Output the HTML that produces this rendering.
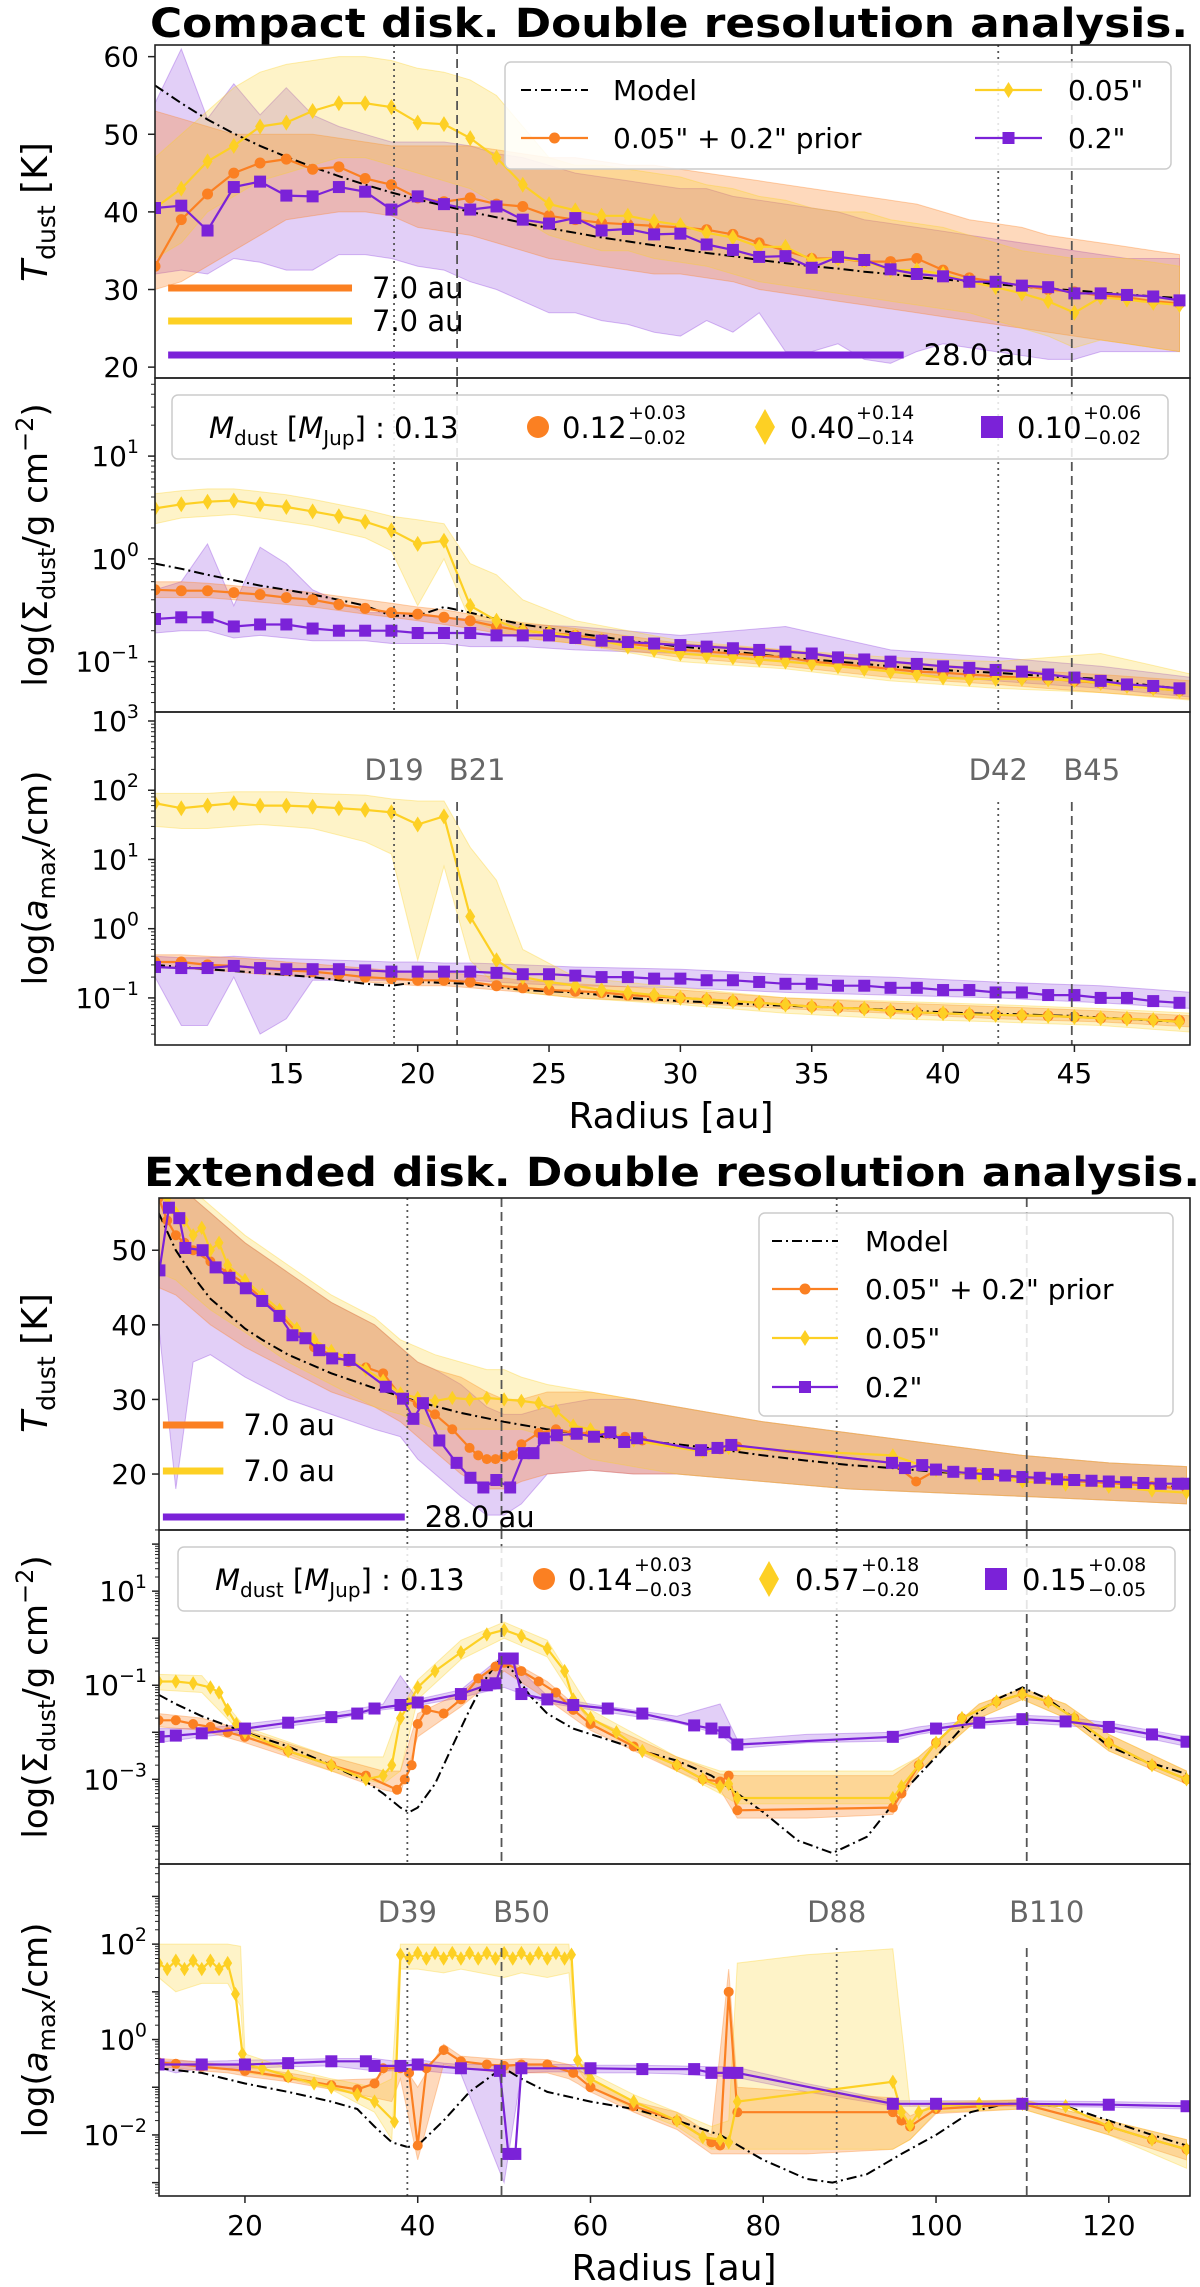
<!DOCTYPE html>
<html><head><meta charset="utf-8"><title>Double resolution analysis</title>
<style>
body{margin:0;background:#fff;}
svg{display:block;font-family:"DejaVu Sans","Liberation Sans",sans-serif;}
</style></head>
<body>
<svg id="fig" xmlns="http://www.w3.org/2000/svg" width="1200" height="2287" viewBox="0 0 1200 2287">
<rect x="0" y="0" width="1200" height="2287" fill="#fff"/>
<defs>
<clipPath id="c1"><rect x="155" y="45" width="1035" height="333"/></clipPath>
<clipPath id="c2"><rect x="155" y="378" width="1035" height="334"/></clipPath>
<clipPath id="c3"><rect x="155" y="712" width="1035" height="333"/></clipPath>
<clipPath id="c4"><rect x="159" y="1198" width="1031" height="332"/></clipPath>
<clipPath id="c5"><rect x="159" y="1530" width="1031" height="334"/></clipPath>
<clipPath id="c6"><rect x="159" y="1864" width="1031" height="332"/></clipPath>
</defs>
<text x="150" y="37" font-size="40" font-weight="bold" textLength="1038" lengthAdjust="spacingAndGlyphs">Compact disk. Double resolution analysis.</text>
<text x="144" y="1186" font-size="40" font-weight="bold" textLength="1056" lengthAdjust="spacingAndGlyphs">Extended disk. Double resolution analysis.</text>
<g id="layer"></g>
<text transform="translate(47,212) rotate(-90)" text-anchor="middle" font-size="36"><tspan font-style="italic">T</tspan><tspan font-size="25" dy="8">dust</tspan><tspan dy="-8"> [K]</tspan></text>
<text transform="translate(47,545) rotate(-90)" text-anchor="middle" font-size="34">log(Σ<tspan font-size="24" dy="8">dust</tspan><tspan dy="-8">/g cm</tspan><tspan font-size="24" dy="-14">−2</tspan><tspan dy="14">)</tspan></text>
<text transform="translate(47,878) rotate(-90)" text-anchor="middle" font-size="34">log(<tspan font-style="italic">a</tspan><tspan font-size="24" dy="8">max</tspan><tspan dy="-8">/cm)</tspan></text>
<text transform="translate(47,1363) rotate(-90)" text-anchor="middle" font-size="36"><tspan font-style="italic">T</tspan><tspan font-size="25" dy="8">dust</tspan><tspan dy="-8"> [K]</tspan></text>
<text transform="translate(47,1697) rotate(-90)" text-anchor="middle" font-size="34">log(Σ<tspan font-size="24" dy="8">dust</tspan><tspan dy="-8">/g cm</tspan><tspan font-size="24" dy="-14">−2</tspan><tspan dy="14">)</tspan></text>
<text transform="translate(47,2030) rotate(-90)" text-anchor="middle" font-size="34">log(<tspan font-style="italic">a</tspan><tspan font-size="24" dy="8">max</tspan><tspan dy="-8">/cm)</tspan></text>
<text x="671" y="1128" text-anchor="middle" font-size="36">Radius [au]</text>
<text x="674" y="2280" text-anchor="middle" font-size="36">Radius [au]</text>
</svg>
<script>
// ===== Compact disk data =====
const tR = [10,11,12,13,14,15,16,17,18,19,20,21,22,23,24,25,26,27,28,29,30,31,32,33,34,35,36,37,38,39,40,41,42,43,44,45,46,47,48,49];
const tT_model = [56.3,54.0,51.9,50.1,48.5,47.1,45.8,44.6,43.5,42.5,41.6,40.8,40.0,39.3,38.6,37.9,37.3,36.7,36.2,35.7,35.2,34.7,34.3,33.8,33.4,33.0,32.7,32.3,32.0,31.6,31.3,31.0,30.7,30.4,30.1,29.9,29.6,29.4,29.1,28.9];
const tT_prior = [33,39,42.3,45,46.3,46.8,45.5,45.8,44.3,43.5,41.8,41.3,41.8,41,40.7,39.5,39,38.6,38.4,38.2,38,37.7,37.1,36,35,34,34,33.6,33.6,34,32.5,31.5,31,30.5,30,29.7,29.2,29,28.5,28.2];
const tT_fine = [40.5,43,46.5,48.5,51,51.5,53,54,54,53.5,51.5,51.3,49.5,47,43.5,41,40.2,39.5,39.5,38.8,38.3,37.3,36.7,35.5,35.5,33.8,34,33.7,32.5,32.5,32,31,30.3,29.5,28.5,27,29,28.7,28.3,28];
const tT_coarse = [40.5,40.8,37.6,43.2,43.9,42.1,42,43.2,42.6,40.3,42,41,40.3,40.7,39,38.5,39.2,37.6,37.8,37.1,37.2,35.8,35.1,34.2,34.3,32.8,34.2,33.8,32.6,32,31.7,31,31,30.5,30.3,29.5,29.5,29.3,29.1,28.6];
const tT_priorLo = [30,31,33,35,37,39,39.5,40,40,39.5,38,37.5,37,36,35,34,33.5,33,32.5,32,32,31.5,31,30,29.5,29,28.5,28,27.5,27,26.5,26,25.5,25,24.5,24,23.5,23,22.5,22];
const tT_priorHi = [53,52,51,50,50,50,50,49.5,49,48.5,48.5,48.5,48.5,48,47.5,47,47,46.5,46,46,45.5,45,44.5,44,43.5,43,42.5,42,41.5,41,40,39,38.5,38,37,36.5,36,35.5,35,34.5];
const tT_fineLo = [34,36,40,42,44,45,46,47,47,46,45,44,43,41,39,37,36,35,35,34,33.5,33,32,31,30.5,30,29.5,29,28.5,28,27.5,27,26,25,24,22.5,23.5,23,22.5,22];
const tT_fineHi = [47,50,53,56,58,59,59.5,60,60,59.5,58.5,58,57,55,51,47,46,46,45.5,45,44.5,43.5,43,42,41.5,40.5,40,40,39,38.5,38,37,36,35,34.5,34,34,34,33.5,33];
const tT_coarseLo = [32,32.5,32,34,33.5,32.5,32.5,34.5,34.5,34,33,32.5,31,30,28.5,27,27,26,25.5,24.5,24,26,24.5,27,22,22,23,21,20.5,22,23,22.5,22,21.5,21,21,22,22,22,22];
const tT_coarseHi = [54,61,52,56.5,52.5,56,52.5,51,50,49,49,49,48.5,47.5,47,46,45,44.5,44,43.5,43,43,42,41.5,41,40.5,40,39,38.5,38,37.5,37,36.5,36,35.5,35,34.5,34,34,34];

const tS_model = [0.9,0.8,0.7,0.62,0.55,0.5,0.45,0.4,0.35,0.28,0.28,0.34,0.3,0.26,0.23,0.21,0.19,0.175,0.16,0.15,0.14,0.133,0.125,0.118,0.11,0.105,0.1,0.095,0.09,0.086,0.083,0.08,0.078,0.075,0.072,0.07,0.068,0.063,0.058,0.055];
const tS_prior = [0.5,0.49,0.49,0.47,0.45,0.42,0.4,0.36,0.33,0.3,0.29,0.27,0.25,0.22,0.2,0.19,0.18,0.165,0.15,0.14,0.13,0.125,0.12,0.115,0.11,0.1,0.095,0.09,0.085,0.08,0.078,0.075,0.072,0.07,0.068,0.065,0.062,0.058,0.055,0.052];
const tS_fine = [3.1,3.4,3.6,3.7,3.4,3.2,2.9,2.6,2.3,1.9,1.4,1.5,0.35,0.25,0.2,0.19,0.175,0.16,0.14,0.13,0.12,0.115,0.11,0.105,0.1,0.095,0.09,0.085,0.08,0.075,0.07,0.068,0.068,0.068,0.067,0.066,0.062,0.058,0.055,0.052];
const tS_coarse = [0.26,0.27,0.27,0.22,0.23,0.23,0.21,0.2,0.2,0.2,0.19,0.19,0.19,0.18,0.18,0.18,0.17,0.16,0.155,0.15,0.145,0.14,0.135,0.13,0.125,0.12,0.11,0.105,0.1,0.095,0.09,0.087,0.083,0.08,0.075,0.07,0.065,0.06,0.058,0.055];
const tBandR = [10,11,12,13,14,15,16,18,19,20,21,22,23,24,26,30,34,38,42,46,49.5];
const tS_priorLo = [0.42,0.42,0.42,0.40,0.38,0.36,0.34,0.29,0.27,0.25,0.23,0.21,0.19,0.17,0.15,0.11,0.09,0.07,0.06,0.05,0.043];
const tS_priorHi = [0.6,0.6,0.58,0.55,0.52,0.5,0.47,0.4,0.37,0.34,0.32,0.29,0.26,0.24,0.21,0.15,0.13,0.1,0.085,0.075,0.065];
const tS_fineLo = [2.2,2.5,2.6,2.7,2.5,2.3,2.1,1.6,1.2,0.35,1.0,0.25,0.2,0.17,0.15,0.1,0.085,0.065,0.055,0.05,0.042];
const tS_fineHi = [4.3,4.6,4.8,4.8,4.5,4.2,3.8,3.0,2.6,2.4,2.2,0.9,0.7,0.4,0.25,0.16,0.13,0.11,0.1,0.12,0.075];
const tS_coarseLo = [0.19,0.2,0.2,0.17,0.18,0.17,0.16,0.16,0.15,0.15,0.15,0.14,0.14,0.14,0.13,0.12,0.1,0.08,0.065,0.055,0.045];
const tS_coarseHi = [0.5,0.6,1.4,0.35,1.3,0.9,0.5,0.3,0.3,0.28,0.27,0.26,0.24,0.23,0.22,0.18,0.22,0.13,0.11,0.09,0.07];

const tA_model = [0.3,0.28,0.26,0.245,0.23,0.215,0.2,0.18,0.16,0.15,0.17,0.165,0.16,0.145,0.13,0.125,0.12,0.11,0.1,0.095,0.09,0.087,0.083,0.08,0.077,0.075,0.072,0.07,0.067,0.065,0.062,0.06,0.059,0.058,0.056,0.055,0.052,0.05,0.047,0.045];
const tA_prior = [0.33,0.33,0.3,0.29,0.27,0.25,0.24,0.22,0.2,0.19,0.18,0.18,0.17,0.15,0.14,0.13,0.125,0.12,0.11,0.105,0.1,0.095,0.09,0.085,0.08,0.075,0.072,0.07,0.065,0.062,0.06,0.058,0.057,0.056,0.055,0.053,0.051,0.05,0.048,0.047];
const tA_fine = [65,55,60,65,60,60,58,55,52,48,32,42,1.5,0.35,0.2,0.17,0.15,0.13,0.12,0.11,0.1,0.095,0.09,0.085,0.08,0.075,0.072,0.07,0.065,0.062,0.06,0.058,0.057,0.056,0.055,0.053,0.051,0.05,0.048,0.045];
const tA_coarse = [0.28,0.27,0.27,0.29,0.27,0.26,0.26,0.26,0.25,0.24,0.24,0.24,0.24,0.23,0.22,0.22,0.21,0.2,0.2,0.19,0.19,0.18,0.18,0.17,0.16,0.16,0.15,0.15,0.14,0.14,0.13,0.13,0.12,0.12,0.11,0.11,0.1,0.1,0.09,0.085];
const tA_priorLo = [0.27,0.27,0.25,0.24,0.22,0.21,0.2,0.17,0.16,0.15,0.15,0.14,0.13,0.12,0.1,0.085,0.07,0.06,0.05,0.045,0.038];
const tA_priorHi = [0.42,0.42,0.4,0.38,0.36,0.33,0.31,0.27,0.25,0.24,0.23,0.22,0.2,0.18,0.16,0.13,0.1,0.085,0.075,0.065,0.055];
const tA_fineLo = [30,28,28,30,32,30,28,18,12,0.35,8,0.35,0.15,0.12,0.1,0.08,0.06,0.05,0.045,0.04,0.032];
const tA_fineHi = [90,90,90,95,95,95,90,85,75,70,70,15,5,0.5,0.2,0.14,0.1,0.09,0.08,0.07,0.06];
const tA_coarseLo = [0.2,0.04,0.04,0.2,0.03,0.05,0.18,0.18,0.18,0.18,0.18,0.18,0.17,0.16,0.15,0.14,0.12,0.11,0.1,0.085,0.07];
const tA_coarseHi = [0.4,0.38,0.38,0.4,0.38,0.37,0.36,0.34,0.33,0.33,0.32,0.32,0.31,0.3,0.28,0.26,0.22,0.2,0.17,0.15,0.12];

const tRefR = [19.1,21.5,42.1,44.9];
const tRefLabels = ["D19","B21","D42","B45"];
const tXTicks = [15,20,25,30,35,40,45];
const tTTicks = [20,30,40,50,60];
const tSExp = [-1,0,1];
const tAExp = [-1,0,1,2,3];

// ===== Extended disk data =====
const bT_modelR = [10,12,14,16,18,20,22,25,30,35,40,45,50,55,60,65,70,75,80,85,90,95,100,110,120,129];
const bT_model = [55,50,46.5,43.5,41.5,39.5,38,36,33.5,31.5,29.7,28.2,27,26,25.2,24.5,24,23.3,22.5,21.8,21.2,20.8,20.3,19.5,18.8,18.2];
const bT_priorR = [10,11,12,13,14,16,18,20,22,24,26,28,30,32,34,36,38,40,42,44,46,47,48,49,50,51,52,54,56,58,60,62,64,66,73,75,77,95,97.7,100,105,110,115,120,125,129];
const bT_prior = [57,54,52,51,50,48.5,47,45.5,43.5,41.5,39,37,36,35,34.3,33.5,30.5,29.5,28,26,23.5,22.5,22,22,22.3,22.5,24,25.5,26,25.5,25.5,25.3,25,24.5,23,23.3,23.7,21.5,19,20.5,20,19.5,19.1,18.8,18.4,18];
const bT_fineR = [10,11,12,13,14,15,16,17,18,20,22,24,26,28,30,32,34,36,38,40,42,44,46,48,50,52,54,56,58,60,62,65,73,76,95,100,105,110,115,120,125,129];
const bT_fine = [58,57,55,54,52,53,50,51,48,46,44,42,39.5,38,36.5,35.5,34,32.5,30.8,30.2,29.8,30.2,30,30.2,30,29.8,29.5,28.5,26.5,26,25.5,24.5,23,23.5,22.5,20.5,19.8,19,18.6,18.3,17.8,17.5];
const bT_coarseR = [10.1,11.2,12.4,13.1,15.1,16.6,18.2,20.1,22,24,25.5,27,28.6,30.1,32.1,36.3,38.3,39.5,40.6,42.5,44.5,46.1,47.6,49.1,50.7,52.3,53.4,54.6,56.1,58.4,60.4,62.3,63.9,65.4,72.8,74.7,76.3,94.9,96.4,98.4,100,102,104,106,108,110,112,114,116,118,120,122,124,126,128,129];
const bT_coarse = [47.3,55.7,54.3,50.3,50,47.7,46.3,44.9,43.2,41.2,38.6,38.2,36.6,35.5,35.3,31.7,30.1,27.4,29.5,24.5,21.5,19.5,18.2,19.2,18.2,22.8,22.8,24.8,25.2,25.4,25,25.6,24.3,24.8,23.2,23.5,23.9,21.5,20.8,21.2,20.6,20.3,20.1,20,19.8,19.6,19.5,19.3,19.2,19.1,19,18.9,18.8,18.7,18.7,18.7];
const bTBandR = [10,12,14,16,20,25,30,35,38,40,42,45,48,50,52,55,60,65,70,75,80,90,100,110,120,129];
const bT_priorLo = [45,44,42,40,37,34,31,29,27,25,23,20,18,18,19,20,20.5,20,20,19.5,19,18,17.5,17,16.5,16];
const bT_priorHi = [60,59,57,55,51,47,43,40,37,35,34,33,31,30,30,31,31,30,29,28,27,25.5,24,22.5,21.5,21];
const bT_fineLo = [47,46,44,42,39,35,32,29,28,27,26,26,26,26,26,25,22,21,20,19.5,19,18,17.5,17,16.5,16];
const bT_fineHi = [60,59,58,56,52,48,44,41,38,37,36,35,34,34,33,32,31,30,29,28,27,25.5,24,22.5,21.5,21];
const bT_coarseLo = [40,18,35,36,33,30,28,26,25,22,20,17,14.5,14.5,16,20,20.5,20,20,19.5,19,18,17.5,17,16.5,16];
const bT_coarseHi = [57,58,57,55,51,47,43,40,37,35,34,32,29,28,28,29,30,30,29,28,27,25.5,24,22.5,21.5,21];

const bS_modelR = [10,12,15,20,25,30,34,36,38,39,40,42,44,46,48,49.5,51,53,55,58,62,66,70,74,77,80,84,88,92,96,100,104,107,110,113,116,120,124,129];
const bS_model = [0.063,0.04,0.022,0.01,0.005,0.002,0.0009,0.0005,0.00025,0.0002,0.00025,0.0008,0.005,0.03,0.15,0.35,0.2,0.06,0.025,0.012,0.007,0.004,0.0025,0.0012,0.0005,0.0002,0.00005,0.000027,0.00006,0.0005,0.003,0.02,0.05,0.09,0.05,0.02,0.005,0.0025,0.0013];
const bS_priorR = [10,12,14,16,18,20,25,30,34,37.6,38.5,39.3,40,41,43,45,47,49,50,52,54,56,58,60,65,70,73,75,76,77,95,96,98,100,103,107,110,113,116,120,125,129];
const bS_prior = [0.018,0.018,0.015,0.013,0.01,0.008,0.004,0.002,0.0012,0.0006,0.001,0.002,0.015,0.03,0.025,0.05,0.14,0.25,0.3,0.2,0.12,0.07,0.03,0.015,0.005,0.002,0.001,0.0009,0.0012,0.00022,0.00025,0.0005,0.002,0.006,0.02,0.045,0.065,0.045,0.02,0.006,0.002,0.001];
const bS_fineR = [10,12,14,16,17,18,19,20,25,30,34,36,37,38,39,40,42,45,48,50,52,55,57,58,60,63,66,70,73,75,76,77,95,96,98,100,103,107,110,113,116,120,125,129];
const bS_fine = [0.12,0.12,0.11,0.09,0.07,0.03,0.015,0.01,0.004,0.002,0.001,0.0012,0.002,0.02,0.04,0.09,0.2,0.5,1.2,1.5,1.1,0.6,0.2,0.05,0.02,0.01,0.004,0.002,0.001,0.0007,0.0008,0.0004,0.0004,0.0007,0.002,0.006,0.02,0.045,0.065,0.045,0.02,0.006,0.002,0.001];
const bS_coarseR = [10,12,15,20,25,30,33,35,38,40,45,48,49,50,51,52,55,58,62,66,72,74,75.5,77,95,100,105,110,115,120,125,129];
const bS_coarse = [0.008,0.0085,0.0095,0.012,0.016,0.021,0.025,0.032,0.038,0.043,0.065,0.1,0.11,0.37,0.37,0.065,0.05,0.038,0.032,0.025,0.014,0.012,0.01,0.0055,0.008,0.012,0.016,0.019,0.017,0.013,0.009,0.0063];
const bSBandR = [10,15,20,30,36,38,40,45,50,55,60,70,75,77,85,95,98,105,110,115,120,129];
const bS_priorLo = [0.013,0.011,0.006,0.0015,0.0006,0.0005,0.008,0.035,0.2,0.05,0.011,0.0015,0.0006,0.00015,0.00015,0.00018,0.0015,0.02,0.05,0.02,0.004,0.0008];
const bS_priorHi = [0.025,0.02,0.011,0.003,0.0015,0.0015,0.025,0.07,0.4,0.12,0.02,0.003,0.0013,0.0012,0.0012,0.0012,0.003,0.04,0.085,0.04,0.009,0.0015];
const bS_fineLo = [0.08,0.07,0.008,0.0015,0.0008,0.0015,0.05,0.35,1.0,0.4,0.015,0.0015,0.0005,0.0003,0.0003,0.0003,0.0015,0.02,0.05,0.02,0.004,0.0008];
const bS_fineHi = [0.17,0.16,0.013,0.003,0.003,0.03,0.13,0.9,2.2,0.9,0.03,0.003,0.0015,0.0015,0.0015,0.0015,0.003,0.04,0.085,0.04,0.009,0.0015];
const bS_coarseLo = [0.006,0.008,0.01,0.018,0.03,0.033,0.037,0.055,0.09,0.042,0.03,0.016,0.009,0.0045,0.006,0.0065,0.009,0.014,0.016,0.014,0.011,0.005];
const bS_coarseHi = [0.012,0.012,0.015,0.025,0.04,0.16,0.05,0.08,0.45,0.06,0.04,0.022,0.04,0.007,0.009,0.01,0.013,0.019,0.023,0.021,0.016,0.008];

const bA_modelR = [10,15,20,25,30,33,35,37,38.8,40,43,46,49,50,52,55,60,65,70,75,80,85,88,92,96,100,104,108,110,115,120,125,129];
const bA_model = [0.25,0.2,0.12,0.08,0.05,0.035,0.015,0.007,0.0056,0.006,0.02,0.08,0.2,0.25,0.15,0.08,0.05,0.035,0.02,0.01,0.003,0.0012,0.001,0.0015,0.004,0.01,0.03,0.045,0.045,0.04,0.02,0.01,0.006];
const bA_priorR = [10,12,15,20,25,30,33,35,36,38,39,40,41,43,45,48,50,52,55,58,60,65,70,74,75,76,77,95,96,97,100,110,120,125,129];
const bA_prior = [0.33,0.31,0.27,0.22,0.16,0.11,0.09,0.12,0.25,0.25,0.2,0.006,0.25,0.6,0.35,0.3,0.28,0.3,0.3,0.2,0.1,0.04,0.02,0.007,0.006,10,0.03,0.03,0.02,0.015,0.035,0.045,0.015,0.008,0.005];
const bA_fineR = [10,11,12,13,14,15,16,17,18,18.9,19.7,20,22,25,28,30,33,35,37.3,38,39,40,41,42,43,44,45,46,47,48,49,50,51,52,53,54,55,56,57,57.8,58.5,60,65,70,73,75,76,77,95,96,97,98,100,105,110,115,120,125,129];
const bA_fine = [40,30,45,30,45,30,45,30,40,9,0.5,0.3,0.25,0.17,0.12,0.1,0.07,0.05,0.019,60,50,65,50,65,50,65,50,65,50,65,50,65,50,65,50,65,50,65,50,60,0.37,0.15,0.05,0.02,0.009,0.008,0.007,0.05,0.13,0.03,0.016,0.03,0.04,0.045,0.045,0.04,0.015,0.008,0.005];
const bA_coarseR = [10,15,20,25,30,34,35,38,40,45,49.5,50.5,51.3,52,60,66,72,74,76,77,95,100,110,120,129];
const bA_coarse = [0.3,0.3,0.3,0.32,0.35,0.35,0.28,0.28,0.3,0.25,0.22,0.004,0.004,0.25,0.25,0.24,0.24,0.2,0.2,0.2,0.045,0.045,0.045,0.043,0.04];
const bABandR = [10,12,15,18,19.5,20,25,30,35,37,38,40,43,45,50,52,55,57.5,58.5,60,65,70,74,76,77,85,95,97,100,110,120,129];
const bA_fineLo = [20,10,15,15,5,0.2,0.15,0.09,0.03,0.008,30,30,25,30,20,25,20,25,0.25,0.1,0.035,0.015,0.005,0.005,0.005,0.005,0.005,0.008,0.03,0.035,0.01,0.002];
const bA_fineHi = [100,100,100,100,90,0.5,0.25,0.15,0.1,0.15,100,100,100,100,100,100,100,100,0.5,0.2,0.07,0.03,0.015,0.02,40,60,80,0.04,0.05,0.055,0.02,0.008];
const bA_priorLo = [0.27,0.25,0.22,0.2,0.18,0.17,0.13,0.09,0.06,0.05,0.15,0.003,0.3,0.25,0.2,0.2,0.2,0.15,0.12,0.08,0.03,0.013,0.004,0.004,0.004,0.004,0.005,0.008,0.028,0.035,0.01,0.003];
const bA_priorHi = [0.4,0.38,0.33,0.3,0.28,0.27,0.2,0.14,0.15,0.25,0.35,0.1,0.8,0.45,0.38,0.4,0.38,0.3,0.25,0.15,0.05,0.03,0.01,30,0.1,0.08,0.06,0.025,0.045,0.055,0.02,0.008];
const bA_coarseLo = [0.25,0.2,0.25,0.25,0.25,0.25,0.27,0.28,0.22,0.22,0.22,0.23,0.2,0.19,0.001,0.2,0.21,0.21,0.21,0.2,0.2,0.19,0.17,0.17,0.16,0.08,0.04,0.04,0.04,0.04,0.038,0.035];
const bA_coarseHi = [0.35,0.36,0.35,0.36,0.37,0.37,0.38,0.4,0.4,0.36,0.35,0.38,0.32,0.3,0.3,0.3,0.3,0.3,0.3,0.29,0.29,0.28,0.27,0.27,0.26,0.12,0.052,0.052,0.052,0.052,0.05,0.047];

const bRefR = [38.8,49.7,88.5,110.5];
const bRefLabels = ["D39","B50","D88","B110"];
const bXTicks = [20,40,60,80,100,120];
const bTTicks = [20,30,40,50];
const bSExp = [-3,-1,1];
const bAExp = [-2,0,2];

const resLengths = [7.0,7.0,28.0];

// ===== drawing =====
const NS = 'http://www.w3.org/2000/svg';
const layer = document.getElementById('layer');
const COL = {model:'#000', prior:'#fb8022', fine:'#fdd024', coarse:'#7b22d8'};
const BAND = {prior:['#fb8022',0.3], fine:['#fdd024',0.25], coarse:['#8b3ee0',0.25]};
function mk(parent, tag, attrs){
  const e = document.createElementNS(NS, tag);
  for (const k in attrs) e.setAttribute(k, attrs[k]);
  parent.appendChild(e);
  return e;
}
function lin(d0,d1,p0,p1){ return v => p0 + (v-d0)*(p1-p0)/(d1-d0); }
function logs(d0,d1,p0,p1){ return v => p0 + (Math.log10(v)-d0)*(p1-p0)/(d1-d0); }

const xTop = lin(10,49.4,155,1190);
const xBot = lin(10.05,129.4,159,1190);
const panels = [
  {key:'top-tdust', clip:'c1', x:xTop, y:lin(18.6,61.5,378,45), l:155,r:1190,t:45,b:378},
  {key:'top-sigma', clip:'c2', x:xTop, y:logs(-1.49,1.76,712,378), l:155,r:1190,t:378,b:712},
  {key:'top-amax', clip:'c3', x:xTop, y:logs(-1.68,3.13,1045,712), l:155,r:1190,t:712,b:1045},
  {key:'bottom-tdust', clip:'c4', x:xBot, y:lin(12.5,57,1530,1198), l:159,r:1190,t:1198,b:1530},
  {key:'bottom-sigma', clip:'c5', x:xBot, y:logs(-4.8,2.3,1864,1530), l:159,r:1190,t:1530,b:1864},
  {key:'bottom-amax', clip:'c6', x:xBot, y:logs(-3.28,3.68,2196,1864), l:159,r:1190,t:1864,b:2196}
];
panels.forEach(p => {
  p.g = mk(layer,'g',{'clip-path':'url(#'+p.clip+')'});
  
  
});

function band(p, R, lo, hi, which){
  const pts = [];
  for (let i=0;i<R.length;i++) pts.push(p.x(R[i]).toFixed(1)+','+p.y(lo[i]).toFixed(1));
  for (let i=R.length-1;i>=0;i--) pts.push(p.x(R[i]).toFixed(1)+','+p.y(hi[i]).toFixed(1));
  const e = mk(p.g,'polygon',{points:pts.join(' '), fill:BAND[which][0], 'fill-opacity':BAND[which][1], stroke:BAND[which][0], 'stroke-opacity':0.35, 'stroke-width':1});
  
  
}
function marker(g, kind, cx, cy, s, color){
  let e;
  if (kind==='circle') e = mk(g,'circle',{cx:cx, cy:cy, r:s, fill:color});
  else if (kind==='diamond') e = mk(g,'polygon',{points:(cx)+','+(cy-s*1.6)+' '+(cx+s)+','+cy+' '+cx+','+(cy+s*1.6)+' '+(cx-s)+','+cy, fill:color});
  else e = mk(g,'rect',{x:cx-s, y:cy-s, width:2*s, height:2*s, fill:color});
  return e;
}
function series(p, R, V, which, kind, ms){
  const d = R.map((r,i)=>(i?'L':'M')+p.x(r).toFixed(1)+','+p.y(V[i]).toFixed(1)).join('');
  const ln = mk(p.g,'path',{d:d, fill:'none', stroke:COL[which], 'stroke-width':2.2, 'stroke-linejoin':'round'});
  
  
  for (let i=0;i<R.length;i++){
    const m = marker(p.g, kind, p.x(R[i]), p.y(V[i]), ms, COL[which]);
    
    
  }
}
function model(p, R, V){
  const d = R.map((r,i)=>(i?'L':'M')+p.x(r).toFixed(1)+','+p.y(V[i]).toFixed(1)).join('');
  const e = mk(p.g,'path',{d:d, fill:'none', stroke:'#000', 'stroke-width':2, 'stroke-dasharray':'10,4,2,4'});
  
  
}

const [P1,P2,P3,P4,P5,P6] = panels;
band(P1,tR,tT_coarseLo,tT_coarseHi,'coarse'); band(P1,tR,tT_priorLo,tT_priorHi,'prior'); band(P1,tR,tT_fineLo,tT_fineHi,'fine');
model(P1,tR,tT_model);
series(P1,tR,tT_prior,'prior','circle',5.5); series(P1,tR,tT_fine,'fine','diamond',5); series(P1,tR,tT_coarse,'coarse','square',6);
band(P2,tBandR,tS_coarseLo,tS_coarseHi,'coarse'); band(P2,tBandR,tS_priorLo,tS_priorHi,'prior'); band(P2,tBandR,tS_fineLo,tS_fineHi,'fine');
model(P2,tR,tS_model);
series(P2,tR,tS_prior,'prior','circle',5.5); series(P2,tR,tS_fine,'fine','diamond',5); series(P2,tR,tS_coarse,'coarse','square',6);
band(P3,tBandR,tA_coarseLo,tA_coarseHi,'coarse'); band(P3,tBandR,tA_priorLo,tA_priorHi,'prior'); band(P3,tBandR,tA_fineLo,tA_fineHi,'fine');
model(P3,tR,tA_model);
series(P3,tR,tA_prior,'prior','circle',5.5); series(P3,tR,tA_fine,'fine','diamond',5); series(P3,tR,tA_coarse,'coarse','square',6);
band(P4,bTBandR,bT_coarseLo,bT_coarseHi,'coarse'); band(P4,bTBandR,bT_priorLo,bT_priorHi,'prior'); band(P4,bTBandR,bT_fineLo,bT_fineHi,'fine');
model(P4,bT_modelR,bT_model);
series(P4,bT_priorR,bT_prior,'prior','circle',5); series(P4,bT_fineR,bT_fine,'fine','diamond',4.5); series(P4,bT_coarseR,bT_coarse,'coarse','square',6);
band(P5,bSBandR,bS_coarseLo,bS_coarseHi,'coarse'); band(P5,bSBandR,bS_priorLo,bS_priorHi,'prior'); band(P5,bSBandR,bS_fineLo,bS_fineHi,'fine');
model(P5,bS_modelR,bS_model);
series(P5,bS_priorR,bS_prior,'prior','circle',5); series(P5,bS_fineR,bS_fine,'fine','diamond',4.5); series(P5,bS_coarseR,bS_coarse,'coarse','square',6);
band(P6,bABandR,bA_coarseLo,bA_coarseHi,'coarse'); band(P6,bABandR,bA_priorLo,bA_priorHi,'prior'); band(P6,bABandR,bA_fineLo,bA_fineHi,'fine');
model(P6,bA_modelR,bA_model);
series(P6,bA_priorR,bA_prior,'prior','circle',5); series(P6,bA_fineR,bA_fine,'fine','diamond',4.5); series(P6,bA_coarseR,bA_coarse,'coarse','square',6);

function refLines(ps, R, labels, labY, gapTop){
  R.forEach((r,i) => {
    const isB = labels[i][0]==='B';
    ps.forEach((p,j) => {
      const x = p.x(r);
      const y0 = (j===2) ? gapTop : p.t;
      const e = mk(layer,'line',{x1:x, x2:x, y1:y0, y2:p.b, stroke:'#555', 'stroke-width':1.8, 'stroke-dasharray': isB ? '9,5' : '2,4'});
      
      
    });
    const x = ps[0].x(r) + (isB ? 20 : 0);
    const t = mk(layer,'text',{x:x, y:labY, 'text-anchor':'middle', 'font-size':29, fill:'#666'});
    t.textContent = labels[i];
    
    
  });
}
refLines([P1,P2,P3], tRefR, tRefLabels, 780, 802);
refLines([P4,P5,P6], bRefR, bRefLabels, 1922, 1948);

panels.forEach(p => {
  const f = mk(layer,'rect',{x:p.l, y:p.t, width:p.r-p.l, height:p.b-p.t, fill:'none', stroke:'#222', 'stroke-width':1.6});
  
  
});
function yLinTicks(p, ticks, labelX){
  ticks.forEach(v => {
    const y = p.y(v);
    const tk = mk(layer,'line',{x1:p.l-7, x2:p.l, y1:y, y2:y, stroke:'#222', 'stroke-width':1.5});
    
    
    const t = mk(layer,'text',{x:labelX, y:y+10, 'text-anchor':'end', 'font-size':28});
    t.textContent = String(v);
    
    
  });
}
function yLogTicks(p, exps, labelX){
  for (let e=-6; e<=3; e++){
    for (let m=1; m<10; m++){
      const v = m*Math.pow(10,e);
      const y = p.y(v);
      if (y < p.t-0.5 || y > p.b+0.5) continue;
      const len = m===1 ? 7 : 4;
      const tk = mk(layer,'line',{x1:p.l-len, x2:p.l, y1:y, y2:y, stroke:'#222', 'stroke-width': m===1 ? 1.5 : 1});
      
      
    }
  }
  exps.forEach(ex => {
    const y = p.y(Math.pow(10,ex));
    const t = mk(layer,'text',{x:labelX, y:y+10, 'text-anchor':'end', 'font-size':28});
    
    
    const a = mk(t,'tspan',{});
    a.textContent = '10';
    const b = mk(t,'tspan',{dy:-13, 'font-size':19});
    b.textContent = ex<0 ? '−'+(-ex) : String(ex);
  });
}
function xTicks(p, ticks, labY){
  ticks.forEach(v => {
    const x = p.x(v);
    const tk = mk(layer,'line',{x1:x, x2:x, y1:p.b, y2:p.b+7, stroke:'#222', 'stroke-width':1.5});
    
    
    const t = mk(layer,'text',{x:x, y:labY, 'text-anchor':'middle', 'font-size':28});
    t.textContent = String(v);
    
    
  });
}
yLinTicks(P1, tTTicks, 139); yLogTicks(P2, tSExp, 139); yLogTicks(P3, tAExp, 139);
yLinTicks(P4, bTTicks, 147); yLogTicks(P5, bSExp, 147); yLogTicks(P6, bAExp, 147);
xTicks(P3, tXTicks, 1083); xTicks(P6, bXTicks, 2235);

function resBars(p, ys, txtDx){
  const names = ['prior','fine','coarse'];
  resLengths.forEach((L,i) => {
    const x1 = p.x(10.5), x2 = x1 + (p.x(10+L) - p.x(10));
    const e = mk(layer,'line',{x1:x1, x2:x2, y1:ys[i], y2:ys[i], stroke:COL[names[i]], 'stroke-width':7});
    
    
    const t = mk(layer,'text',{x:x2+txtDx, y:ys[i]+10, 'font-size':29});
    t.textContent = L.toFixed(1)+' au';
    
    
  });
}
resBars(P1, [288,321,355], 20);
resBars(P4, [1425,1471,1517], 20);
</script>

<svg style="position:absolute;left:0;top:0" width="1200" height="2287" xmlns="http://www.w3.org/2000/svg" font-family="DejaVu Sans, Liberation Sans, sans-serif">
<g>
<rect x="505" y="62" width="666" height="107" rx="6" fill="#fff" fill-opacity="0.85" stroke="#ccc" stroke-width="1.5"/>
<line x1="521" y1="90" x2="588" y2="90" stroke="#000" stroke-width="2" stroke-dasharray="10,4,2,4"/>
<text x="613" y="100" font-size="28">Model</text>
<line x1="521" y1="138" x2="588" y2="138" stroke="#fb8022" stroke-width="2.2"/>
<circle cx="554.5" cy="138" r="5.5" fill="#fb8022"/>
<text x="613" y="148" font-size="28">0.05" + 0.2" prior</text>
<line x1="975" y1="90" x2="1042" y2="90" stroke="#fdd024" stroke-width="2.2"/>
<polygon points="1008.5,82 1013.5,90 1008.5,98 1003.5,90" fill="#fdd024"/>
<text x="1068" y="100" font-size="28">0.05"</text>
<line x1="975" y1="138" x2="1042" y2="138" stroke="#7b22d8" stroke-width="2.2"/>
<rect x="1002.5" y="132" width="12" height="12" fill="#7b22d8"/>
<text x="1068" y="148" font-size="28">0.2"</text>
</g>
<g>
<rect x="172" y="395" width="996" height="64" rx="6" fill="#fff" fill-opacity="0.85" stroke="#ccc" stroke-width="1.5"/>
<text x="209" y="438" font-size="29"><tspan font-style="italic">M</tspan><tspan font-size="20" dy="7">dust</tspan><tspan dy="-7"> [</tspan><tspan font-style="italic">M</tspan><tspan font-size="20" dy="7">Jup</tspan><tspan dy="-7">] : 0.13</tspan></text>
<circle cx="538" cy="427" r="11" fill="#fb8022"/>
<text x="562" y="438" font-size="29">0.12</text>
<text x="628" y="419" font-size="19">+0.03</text>
<text x="628" y="444" font-size="19">−0.02</text>
<polygon points="765,409 775,427 765,445 755,427" fill="#fdd024"/>
<text x="790" y="438" font-size="29">0.40</text>
<text x="856" y="419" font-size="19">+0.14</text>
<text x="856" y="444" font-size="19">−0.14</text>
<rect x="981" y="416" width="22" height="22" fill="#7b22d8"/>
<text x="1017" y="438" font-size="29">0.10</text>
<text x="1083" y="419" font-size="19">+0.06</text>
<text x="1083" y="444" font-size="19">−0.02</text>
</g>
<g>
<rect x="759" y="1213" width="414" height="203" rx="6" fill="#fff" fill-opacity="0.85" stroke="#ccc" stroke-width="1.5"/>
<line x1="772" y1="1241" x2="838" y2="1241" stroke="#000" stroke-width="2" stroke-dasharray="10,4,2,4"/>
<text x="865" y="1251" font-size="28">Model</text>
<line x1="772" y1="1289" x2="838" y2="1289" stroke="#fb8022" stroke-width="2.2"/>
<circle cx="805" cy="1289" r="5.5" fill="#fb8022"/>
<text x="865" y="1299" font-size="28">0.05" + 0.2" prior</text>
<line x1="772" y1="1338" x2="838" y2="1338" stroke="#fdd024" stroke-width="2.2"/>
<polygon points="805,1330 810,1338 805,1346 800,1338" fill="#fdd024"/>
<text x="865" y="1348" font-size="28">0.05"</text>
<line x1="772" y1="1387" x2="838" y2="1387" stroke="#7b22d8" stroke-width="2.2"/>
<rect x="799" y="1381" width="12" height="12" fill="#7b22d8"/>
<text x="865" y="1397" font-size="28">0.2"</text>
</g>
<g>
<rect x="178" y="1547" width="997" height="64" rx="6" fill="#fff" fill-opacity="0.85" stroke="#ccc" stroke-width="1.5"/>
<text x="215" y="1590" font-size="29"><tspan font-style="italic">M</tspan><tspan font-size="20" dy="7">dust</tspan><tspan dy="-7"> [</tspan><tspan font-style="italic">M</tspan><tspan font-size="20" dy="7">Jup</tspan><tspan dy="-7">] : 0.13</tspan></text>
<circle cx="544" cy="1579" r="11" fill="#fb8022"/>
<text x="568" y="1590" font-size="29">0.14</text>
<text x="634" y="1571" font-size="19">+0.03</text>
<text x="634" y="1596" font-size="19">−0.03</text>
<polygon points="769,1561 779,1579 769,1597 759,1579" fill="#fdd024"/>
<text x="795" y="1590" font-size="29">0.57</text>
<text x="861" y="1571" font-size="19">+0.18</text>
<text x="861" y="1596" font-size="19">−0.20</text>
<rect x="985" y="1568" width="22" height="22" fill="#7b22d8"/>
<text x="1022" y="1590" font-size="29">0.15</text>
<text x="1088" y="1571" font-size="19">+0.08</text>
<text x="1088" y="1596" font-size="19">−0.05</text>
</g>
</svg>
</body></html>
